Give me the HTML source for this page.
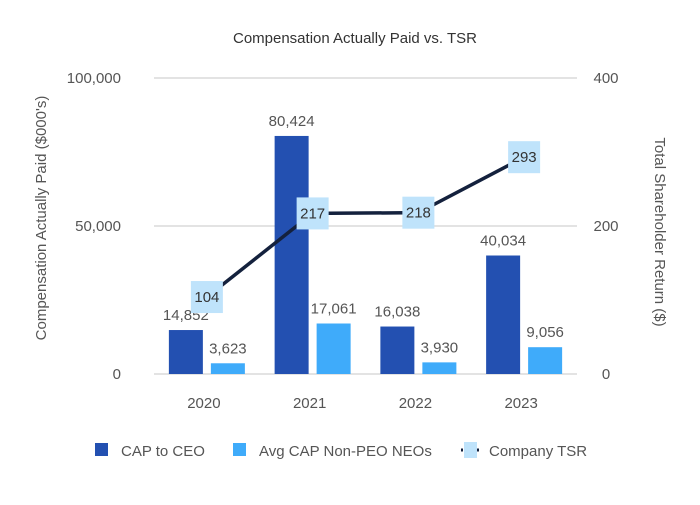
<!DOCTYPE html>
<html><head><meta charset="utf-8"><style>
body{margin:0;background:#fff;font-family:"Liberation Sans",sans-serif}
svg text{font-family:"Liberation Sans",sans-serif}
</style></head><body>
<svg width="700" height="500">
<text x="355" y="43" text-anchor="middle" font-size="15" fill="#333">Compensation Actually Paid vs. TSR</text>
<g id="grid"></g><g id="bars"></g><g id="line"></g><g id="labels"></g>
<text transform="translate(46,218) rotate(-90)" text-anchor="middle" font-size="15" fill="#555">Compensation Actually Paid ($000's)</text>
<text transform="translate(655,232) rotate(90)" text-anchor="middle" font-size="15" fill="#555">Total Shareholder Return ($)</text>
<g>
<rect x="95" y="443" width="13" height="13" fill="#2350b1"/>
<text x="121" y="456" font-size="15" fill="#555">CAP to CEO</text>
<rect x="233" y="443" width="13" height="13" fill="#3fabfa"/>
<text x="259" y="456" font-size="15" fill="#555">Avg CAP Non-PEO NEOs</text>
<line x1="461" y1="450" x2="479" y2="450" stroke="#14213d" stroke-width="3" stroke-dasharray="2,14"/>
<rect x="464" y="442" width="13" height="16" fill="#bfe3fb"/>
<text x="489" y="456" font-size="15" fill="#555">Company TSR</text>
</g>
</svg>
<script>
const categories=["2020","2021","2022","2023"];
const capCEO=[14852,80424,16038,40034];
const capNEO=[3623,17061,3930,9056];
const tsr=[104,217,218,293];
const leftTicks=[0,50000,100000];
const rightTicks=[0,200,400];
const NS="http://www.w3.org/2000/svg";
const x0=154,x1=577,yb=374,yt=78;
const band=(x1-x0)/categories.length;
const cx=i=>x0+band*(i+0.5);
const yL=v=>yb-(v/100000)*(yb-yt);
const yR=v=>yb-(v/400)*(yb-yt);
const fmt=v=>v.toLocaleString("en-US");
function mk(t,a,p){const e=document.createElementNS(NS,t);for(const k in a)e.setAttribute(k,a[k]);document.getElementById(p).appendChild(e);return e;}
leftTicks.forEach(v=>{
 const l=mk("line",{x1:x0,x2:x1,y1:yL(v),y2:yL(v),stroke:"#e3e3e3","stroke-width":2},"grid");
 
 
 const t=mk("text",{x:121,y:yL(v)+5,"text-anchor":"end","font-size":15,fill:"#555"},"grid");t.textContent=fmt(v);
 
 
});
rightTicks.forEach(v=>{
 const t=mk("text",{x:606,y:yR(v)+5,"text-anchor":"middle","font-size":15,fill:"#555"},"grid");t.textContent=v;
 
 
});
categories.forEach((c,i)=>{
 const t=mk("text",{x:cx(i)-3,y:408,"text-anchor":"middle","font-size":15,fill:"#555"},"labels");t.textContent=c;
 
 
 const b1=mk("rect",{x:cx(i)-38,y:yL(capCEO[i]),width:34,height:yb-yL(capCEO[i]),fill:"#2350b1"},"bars");
 
 
 const b2=mk("rect",{x:cx(i)+4,y:yL(capNEO[i]),width:34,height:yb-yL(capNEO[i]),fill:"#3fabfa"},"bars");
 
 
 const l1=mk("text",{x:cx(i)-21,y:yL(capCEO[i])-10,"text-anchor":"middle","font-size":15,fill:"#555"},"labels");l1.textContent=fmt(capCEO[i]);
 
 
 const l2=mk("text",{x:cx(i)+21,y:yL(capNEO[i])-10,"text-anchor":"middle","font-size":15,fill:"#555"},"labels");l2.textContent=fmt(capNEO[i]);
 
 
});
const pl=mk("polyline",{points:tsr.map((v,i)=>cx(i)+","+yR(v)).join(" "),fill:"none",stroke:"#14213d","stroke-width":3.5},"line");


tsr.forEach((v,i)=>{
 const r=mk("rect",{x:cx(i)-16,y:yR(v)-16,width:32,height:32,fill:"#bfe3fb"},"labels");
 
 
 const t=mk("text",{x:cx(i),y:yR(v)+5,"text-anchor":"middle","font-size":15,fill:"#333"},"labels");t.textContent=v;
 
 
});
</script>
</body></html>
